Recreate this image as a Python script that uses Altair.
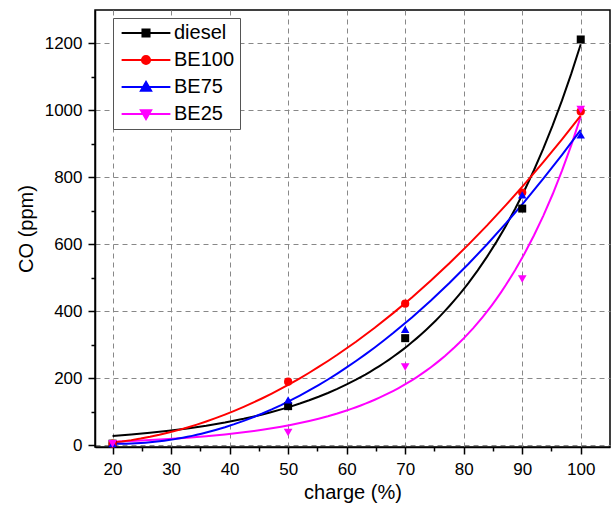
import altair as alt
import pandas as pd

charge = [20, 50, 70, 90, 100]
diesel = [5, 117, 320, 707, 1212]
be100 = [5, 190, 423, 755, 997]
be75 = [5, 136, 346, 748, 927]
be25 = [5, 38, 234, 497, 1003]

series_names = ["diesel", "BE100", "BE75", "BE25"]
series_values = [diesel, be100, be75, be25]
colors = ["#000000", "#ff0000", "#0000ff", "#ff00ff"]
point_shapes = ["square", "circle", "triangle-up", "triangle-down"]
point_sizes = [64, 75, 105, 105]
legend_shapes = [
    "M-6.7,0H6.7M-1,-1H1V1H-1Z",
    "M-6.7,0H6.7M1.15,0A1.15,1.15,0,1,1,-1.15,0A1.15,1.15,0,1,1,1.15,0Z",
    "M-6.7,0H6.7M0,-1.45L1.45,1.05H-1.45Z",
    "M-6.7,0H6.7M0,1.45L1.45,-1.05H-1.45Z",
]
exp_series = ["diesel", "BE25"]
quad_series = ["BE100", "BE75"]

rows = []
for name, vals in zip(series_names, series_values):
    for c, v in zip(charge, vals):
        rows.append({"series": name, "charge": c, "co": v})
df = pd.DataFrame(rows)

FONT = "Liberation Sans, Arial, sans-serif"

x_enc = alt.X(
    "charge:Q",
    scale=alt.Scale(domain=[17, 105], nice=False, zero=False),
    axis=alt.Axis(
        title="charge (%)",
        values=list(range(20, 101, 5)),
        labelExpr="datum.value % 10 === 0 ? datum.label : ''",
        tickSize={"condition": {"test": "datum.value % 10 === 0", "value": 7}, "value": 4},
        gridOpacity={"condition": {"test": "datum.value % 10 === 0", "value": 1}, "value": 0},
        titlePadding=5,
        labelPadding=7,
    ),
)
y_enc = alt.Y(
    "co:Q",
    scale=alt.Scale(domain=[-5, 1300], nice=False, zero=False),
    axis=alt.Axis(
        title="CO (ppm)",
        format="d",
        values=list(range(0, 1201, 100)),
        labelExpr="datum.value % 200 === 0 ? datum.label : ''",
        tickSize={"condition": {"test": "datum.value % 200 === 0", "value": 7}, "value": 4},
        gridOpacity={"condition": {"test": "datum.value % 200 === 0", "value": 1}, "value": 0},
        titlePadding=8,
        labelPadding=6,
    ),
)

color_scale = alt.Scale(domain=series_names, range=colors)


def fit_layer(names, method):
    return alt.Chart(df).transform_filter(
        alt.FieldOneOfPredicate(field="series", oneOf=names)
    ).transform_regression(
        "charge", "co", groupby=["series"], method=method, extent=[20, 100]
    ).mark_line(strokeWidth=2).encode(
        x=x_enc, y=y_enc,
        color=alt.Color("series:N", scale=color_scale, legend=None),
    )


line_exp = fit_layer(exp_series, "exp")
line_quad = fit_layer(quad_series, "quad")

points = alt.Chart(df).mark_point(filled=True, opacity=1).encode(
    x=x_enc, y=y_enc,
    color=alt.Color("series:N", scale=color_scale, legend=None),
    shape=alt.Shape("series:N", scale=alt.Scale(domain=series_names, range=point_shapes), legend=None),
    size=alt.Size("series:N", scale=alt.Scale(domain=series_names, range=point_sizes), legend=None),
)

legend_layer = alt.Chart(df).transform_filter("false").mark_point(opacity=1, strokeWidth=2).encode(
    x=x_enc, y=y_enc,
    fill=alt.Fill("series:N", scale=alt.Scale(domain=series_names, range=colors),
                  legend=alt.Legend(title=None)),
    stroke=alt.Stroke("series:N", scale=alt.Scale(domain=series_names, range=colors),
                      legend=alt.Legend(title=None)),
    shape=alt.Shape("series:N", scale=alt.Scale(domain=series_names, range=legend_shapes),
                    legend=alt.Legend(title=None)),
)

chart = alt.layer(line_exp, line_quad, points, legend_layer).resolve_scale(
    shape="independent", fill="independent", stroke="independent"
).properties(
    width=515,
    height=437,
    autosize=alt.AutoSizeParams(type="none"),
    padding={"left": 95, "top": 10, "right": 2, "bottom": 62},
).configure_view(
    stroke="#000000", strokeWidth=1.5
).configure_axis(
    domainColor="#000000", domainWidth=1.5,
    tickColor="#000000", tickWidth=1.5,
    labelFont=FONT, labelFontSize=17, labelColor="#000000",
    titleFont=FONT, titleFontSize=20, titleFontWeight="normal", titleColor="#000000",
    gridColor="#888888", gridDash=[5, 4], gridWidth=1,
).configure_legend(
    orient="none", legendX=18, legendY=8,
    labelFont=FONT, labelFontSize=20, labelColor="#000000",
    symbolSize=53, symbolStrokeWidth=1.8,
    padding=5, rowPadding=7, symbolOffset=18, labelOffset=18,
    strokeColor="#555555", fillColor="#ffffff", cornerRadius=0,
)

chart.save("out.html", embed_options={"renderer": "svg", "actions": False})
